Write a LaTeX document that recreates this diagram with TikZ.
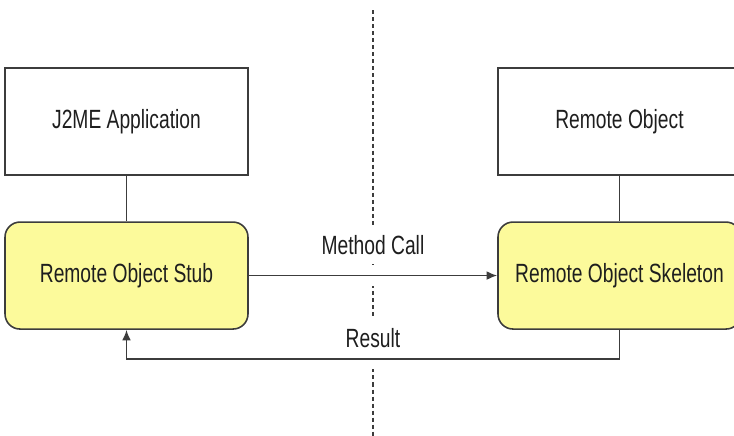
\documentclass[tikz,border=0pt]{standalone}
\usepackage{fontspec}
\setmainfont{Liberation Sans}[FakeStretch=0.73]
\usepackage{tikz}
\usetikzlibrary{arrows.meta, positioning}
\definecolor{stubyellow}{RGB}{252, 250, 155}
\definecolor{linegray}{RGB}{60, 60, 60}
\definecolor{textgray}{RGB}{30, 30, 30}

\begin{document}
\begin{tikzpicture}[
  x=0.02cm, y=-0.02cm,
  node distance=0.91cm and 4.97cm,
  box/.style={draw=linegray, line width=0.9pt, minimum width=4.86cm, minimum height=2.14cm,
    font=\fontsize{15}{18}\selectfont, text=textgray, align=center},
  yellowbox/.style={box, fill=stubyellow, rounded corners=0.3cm},
  arrow/.style={-{Latex[length=6pt, width=5pt]}, draw=linegray, line width=0.9pt,
    preaction={draw=white, line width=12pt, -}},
  link/.style={draw=linegray, line width=0.9pt},
  msglabel/.style={font=\fontsize{15}{18}\selectfont, text=textgray, fill=white, inner sep=5pt},
  divider/.style={draw=linegray, line width=0.6pt, dash pattern=on 2.3pt off 1.7pt}
]
\useasboundingbox (0,0) rectangle (734,436);

% Divider between client and server
\coordinate (divtop) at (373,10);
\coordinate (divbot) at (373,436);
\draw[divider] (divtop) -- (divbot);

% Client side
\node[box] (app) at (126.5,121.5) {J2ME Application};
\node[yellowbox, below=of app] (stub) {Remote Object Stub};

% Server side
\node[box, right=of app] (remote) {Remote Object};
\node[yellowbox, below=of remote] (skeleton) {Remote Object Skeleton};

% Links
\draw[link] (app) -- (stub);
\draw[link] (remote) -- (skeleton);

% Messages
\draw[arrow] (stub) -- node[msglabel, above=0.22cm] {Method Call} (skeleton);
\draw[arrow] (skeleton.south) -- ++(0,29) -| node[msglabel, pos=0.25, above=0.04cm] {Result} (stub.south);

\end{tikzpicture}
\end{document}
